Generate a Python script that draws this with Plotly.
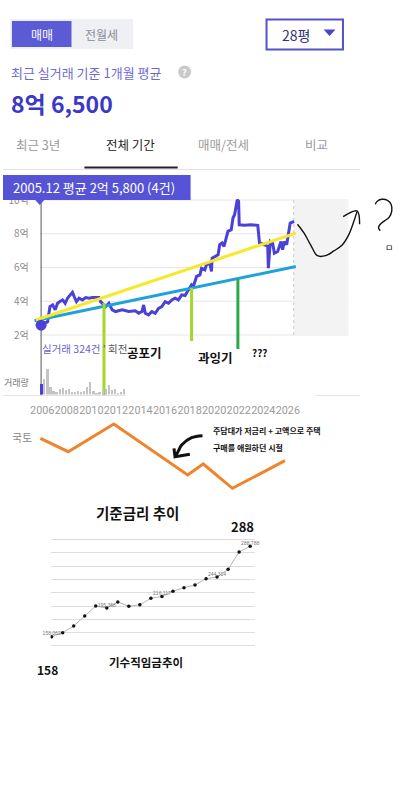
import plotly.graph_objects as go

W, H = 405, 790
def px(x): return x / W
def py(y): return 1 - y / H

KR = "Noto Sans CJK KR"

# ---------------- data ----------------
price_years = [2005.91, 2006.44, 2006.63, 2006.85, 2007.06, 2007.25, 2007.44, 2007.66, 2007.87, 2008.06,
               2008.28, 2008.46, 2008.60, 2008.79, 2009.00, 2009.27, 2009.54, 2009.81, 2010.08, 2010.62,
               2010.75, 2010.89, 2011.16, 2011.43, 2011.70, 2011.97, 2012.51, 2013.04, 2013.58, 2013.85,
               2014.12, 2014.26, 2014.39, 2014.66, 2014.93, 2015.20, 2015.47, 2015.74, 2016.01, 2016.28,
               2016.55, 2016.82, 2017.09, 2017.36, 2017.63, 2017.90, 2018.16, 2018.30, 2018.57, 2018.84,
               2018.97, 2019.24, 2019.37, 2019.64, 2019.78, 2019.83, 2020.05, 2020.32, 2020.45, 2020.64,
               2020.80, 2020.99, 2021.12, 2021.39, 2021.53, 2021.66, 2021.74, 2021.88, 2021.99, 2022.04,
               2022.47, 2023.01, 2023.55, 2023.69, 2024.09, 2024.36, 2024.41, 2024.57, 2024.76, 2024.90,
               2025.17, 2025.44, 2025.57, 2025.71, 2025.90, 2026.03, 2026.19, 2026.51]
price_values = [2.58, 2.79, 3.68, 3.78, 3.49, 3.88, 3.98, 4.08, 3.88, 4.18,
                4.38, 4.53, 4.28, 3.98, 4.18, 4.08, 4.22, 4.18, 4.22, 4.22,
                3.98, 3.88, 3.68, 3.88, 3.49, 3.39, 3.49, 3.39, 3.43, 3.29,
                3.39, 3.78, 3.29, 3.19, 3.39, 3.29, 3.58, 3.68, 3.98, 3.88,
                4.08, 4.18, 4.08, 4.38, 4.34, 4.67, 4.97, 4.87, 5.47, 5.56,
                5.96, 5.86, 6.16, 6.26, 5.76, 6.55, 6.65, 6.75, 7.35, 7.45,
                7.25, 7.74, 8.14, 8.24, 8.93, 9.13, 9.43, 10.02, 9.92, 8.53,
                8.50, 8.53, 8.50, 7.45, 7.35, 7.25, 5.96, 7.54, 7.45, 6.85,
                6.95, 7.54, 7.05, 7.54, 7.35, 7.94, 8.63, 8.73]
start_year = [2005.91]
start_value = [2.58]

upper_trend_years = [2005.50, 2026.65]
upper_trend_values = [2.89, 8.04]
lower_trend_years = [2005.37, 2026.65]
lower_trend_values = [2.85, 6.06]

phase_years = [2011.03, 2018.16, 2021.93]
phase_tops = [3.90, 4.79, 5.32]
phase_bottoms = [-1.56, 1.64, 1.17]
phase_colors = ["#a6d62b", "#a6d62b", "#2aa84a"]

vol_years = [2005.92, 2006.15, 2006.42, 2006.65, 2006.90, 2007.15, 2007.40, 2007.65, 2007.90, 2008.15,
             2008.40, 2008.65, 2008.90, 2009.15, 2009.40, 2009.65, 2009.90, 2010.15, 2010.40, 2010.65,
             2010.90, 2011.15, 2011.40, 2011.65, 2011.90, 2012.15, 2012.40, 2012.65]
vol_counts = [11, 16, 26, 8, 4, 3, 6, 7, 5, 6,
              3, 3, 4, 3, 4, 8, 13, 4, 2, 3,
              5, 6, 10, 5, 6, 2, 3, 6]

price_tickvals = [2, 4, 6, 8, 10]
price_ticktext = ["2억", "4억", "6억", "8억", "10억"]
year_ticks = [2006, 2008, 2010, 2012, 2014, 2016, 2018, 2020, 2022, 2024, 2026]
shaded_from_year = 2026.48

rate_years = [2005.85, 2008.12, 2011.83, 2017.84, 2019.11, 2021.48, 2025.76]
rate_values = [6.17, 4.83, 7.60, 2.50, 3.60, 1.17, 3.93]

wage_years = [2006, 2007, 2008, 2009, 2010, 2011, 2012, 2013, 2014, 2015,
              2016, 2017, 2018, 2019, 2020, 2021, 2022, 2023, 2024]
wage_values = [158.1, 163.8, 173.5, 187.9, 202.3, 199.4, 208.1, 201.9, 204.2, 213.5,
               216.1, 223.6, 228.8, 232.7, 241.8, 244.3, 255.3, 280.3, 288.8]
wage_label_idx = [0, 5, 10, 15, 18]
wage_label_text = ["158,062", "195,368", "216,117", "244,314", "288,788"]
wage_grid = [144.6, 163.8, 183.1, 202.3, 221.6, 240.9, 260.1, 279.3, 298.7]

# hand-drawn doodles (forecast squiggle and question mark on the price axes)
forecast_doodle_years = [2026.78, 2027.32, 2027.86, 2028.40, 2029.07, 2029.74, 2030.42, 2030.95, 2031.36, 2031.63]
forecast_doodle_values = [8.56, 8.03, 7.33, 6.70, 6.70, 6.98, 7.33, 7.93, 8.71, 9.31]
forecast_head_years = [2030.50, 2031.63, 2031.84]
forecast_head_values = [9.01, 9.35, 8.56]
question_years = [2033.11, 2033.30, 2033.65, 2034.11, 2034.40, 2034.46, 2034.24, 2033.86, 2033.52, 2033.38, 2033.52]
question_values = [9.75, 9.94, 10.04, 9.98, 9.75, 9.35, 8.97, 8.76, 8.56, 8.36, 8.18]
# curved arrow on the rate axes
rate_arrow_years = [2019.05, 2018.16, 2017.35, 2017.03, 2016.81]
rate_arrow_values = [6.43, 6.23, 5.50, 4.77, 4.33]
rate_head_years = [2016.73, 2016.81, 2018.02]
rate_head_values = [5.17, 4.33, 4.57]

# ---------------- figure ----------------
fig = go.Figure()
PURPLE = "#4b40d8"

fig.add_trace(go.Scatter(x=price_years, y=price_values, mode="lines",
                         line=dict(color=PURPLE, width=3), xaxis="x", yaxis="y", hoverinfo="skip"))
fig.add_trace(go.Scatter(x=lower_trend_years, y=lower_trend_values, mode="lines",
                         line=dict(color="#1fa2dc", width=3), xaxis="x", yaxis="y", hoverinfo="skip"))
fig.add_trace(go.Scatter(x=upper_trend_years, y=upper_trend_values, mode="lines",
                         line=dict(color="#f7e82a", width=3), xaxis="x", yaxis="y", hoverinfo="skip"))
for yr, top, bot, col in zip(phase_years, phase_tops, phase_bottoms, phase_colors):
    fig.add_trace(go.Scatter(x=[yr, yr], y=[top, bot], mode="lines",
                             line=dict(color=col, width=3), xaxis="x", yaxis="y", hoverinfo="skip"))
fig.add_trace(go.Scatter(x=start_year, y=start_value, mode="markers",
                         marker=dict(color=PURPLE, size=11), xaxis="x", yaxis="y", hoverinfo="skip",
                         cliponaxis=False))
for xs, ys in [(forecast_doodle_years, forecast_doodle_values), (forecast_head_years, forecast_head_values),
               (question_years, question_values)]:
    fig.add_trace(go.Scatter(x=xs, y=ys, mode="lines", line=dict(color="#111", width=1.4, shape="spline"),
                             xaxis="x", yaxis="y", hoverinfo="skip"))

# volume bars
fig.add_trace(go.Bar(x=vol_years, y=vol_counts, width=0.18,
                     marker=dict(color=[PURPLE] + ["#c4c4c4"] * (len(vol_counts) - 1), line=dict(width=0)),
                     xaxis="x", yaxis="y2", hoverinfo="skip"))

# rate line + arrow
fig.add_trace(go.Scatter(x=rate_years, y=rate_values, mode="lines",
                         line=dict(color="#f0842c", width=3), xaxis="x", yaxis="y3", hoverinfo="skip"))
fig.add_trace(go.Scatter(x=rate_arrow_years, y=rate_arrow_values, mode="lines",
                         line=dict(color="#111", width=3, shape="spline"), xaxis="x", yaxis="y3", hoverinfo="skip"))
fig.add_trace(go.Scatter(x=rate_head_years, y=rate_head_values, mode="lines",
                         line=dict(color="#111", width=3), xaxis="x", yaxis="y3", hoverinfo="skip"))

# wage chart
fig.add_trace(go.Scatter(x=wage_years, y=wage_values, mode="lines+markers",
                         line=dict(color="#b5b5b5", width=1),
                         marker=dict(color="#111", size=3.5),
                         xaxis="x4", yaxis="y4", hoverinfo="skip"))
fig.add_trace(go.Scatter(x=[wage_years[i] for i in wage_label_idx], y=[wage_values[i] for i in wage_label_idx],
                         mode="text", text=wage_label_text, textposition="top center",
                         textfont=dict(size=5, color="#777", family="Liberation Sans"),
                         xaxis="x4", yaxis="y4", hoverinfo="skip", cliponaxis=False))

# ---------------- shapes ----------------
shapes = []
def line_px(x0, y0, x1, y1, color, width, layer="below", dash=None):
    d = dict(type="line", xref="paper", yref="paper", x0=px(x0), y0=py(y0), x1=px(x1), y1=py(y1),
             line=dict(color=color, width=width), layer=layer)
    if dash:
        d["line"]["dash"] = dash
    shapes.append(d)

def rect_px(x0, y0, x1, y1, fill, line_color=None, line_width=0, layer="below"):
    shapes.append(dict(type="rect", xref="paper", yref="paper", x0=px(x0), y0=py(y1), x1=px(x1), y1=py(y0),
                       fillcolor=fill, line=dict(color=line_color or fill, width=line_width), layer=layer))

# top controls
rect_px(7, 19, 131, 49, "#eef0f3")
rect_px(9, 21, 69, 47, "#5b5bd6")
rect_px(265.5, 19.5, 342.5, 49.5, "white", "#5552c8", 2)
shapes.append(dict(type="path", xref="paper", yref="paper",
                   path=f"M {px(323)},{py(29.5)} L {px(335)},{py(29.5)} L {px(329)},{py(36)} Z",
                   fillcolor="#4946c6", line=dict(width=0)))
shapes.append(dict(type="circle", xref="paper", yref="paper", x0=px(176.5), x1=px(189.5), y0=py(78.5), y1=py(65.5),
                   fillcolor="#c9c9c9", line=dict(width=0)))
# tabs
line_px(0, 169.5, 360, 169.5, "#e2e2e2", 1)
line_px(82, 167.5, 176, 167.5, "#222", 2.2)

# price chart background
shapes.append(dict(type="rect", xref="x", yref="y", x0=shaded_from_year, x1=2030.929, y0=2, y1=10,
                   fillcolor="#f3f3f3", line=dict(width=0), layer="below"))
for v in price_tickvals:
    shapes.append(dict(type="line", xref="paper", yref="y", x0=px(37), x1=px(348), y0=v, y1=v,
                       line=dict(color="#e6e6e6", width=1), layer="below"))
shapes.append(dict(type="line", xref="x", yref="y", x0=shaded_from_year, x1=shaded_from_year, y0=2, y1=10,
                   line=dict(color="#c9c9c9", width=1, dash="dot"), layer="below"))
shapes.append(dict(type="line", xref="x", yref="paper", x0=start_year[0], x1=start_year[0],
                   y0=py(395), y1=py(200), line=dict(color="#555", width=1), layer="below"))
line_px(0, 395.5, 123, 395.5, "#e2e2e2", 1)
line_px(315, 395.5, 360, 395.5, "#e2e2e2", 1)

# tooltip
rect_px(0, 175, 189, 200, "#5653d6", layer="above")
shapes.append(dict(type="path", xref="paper", yref="paper", layer="above",
                   path=f"M {px(32)},{py(199.5)} L {px(42)},{py(199.5)} L {px(37)},{py(205)} Z",
                   fillcolor="#5653d6", line=dict(width=0)))

# ---------------- annotations ----------------
ann = []
def txt(x, y, text, size, color="#111", anchor="left", family=KR):
    ann.append(dict(x=px(x), y=py(y), xref="paper", yref="paper", text=text, showarrow=False,
                    xanchor=anchor, yanchor="middle", borderpad=0,
                    font=dict(size=size, color=color, family=family)))

txt(39, 34, "매매", 12, "white", "center")
txt(99.5, 34, "전월세", 12, "#8b8b99", "center")
txt(295, 34.5, "28평", 14, "#33337a", "center")
txt(7, 72, "최근 실거래 기준 1개월 평균", 13, "#6d6bd0")
txt(183, 72, "<b>?</b>", 9, "white", "center")
txt(7, 103, "<b>8억 6,500</b>", 23, "#3b38c6")
txt(35.5, 145, "최근 3년", 12.5, "#9a9a9a", "center")
txt(128.5, 145, "전체 기간", 12.5, "#222", "center")
txt(222, 145, "매매/전세", 12.5, "#9a9a9a", "center")
txt(316, 145, "비교", 12.5, "#9a9a9a", "center")
txt(9, 187.5, "2005.12 평균 2억 5,800 (4건)", 13, "white")
txt(38, 348, '<span style="color:#6a64d0">실거래 324건</span><span style="color:#555"> ′ 회전</span>', 10.5)
txt(27.5, 382, "거래량", 9, "#777", "right")
txt(124, 353, "<b>공포기</b>", 12.5)
txt(195, 357, "<b>과잉기</b>", 12.5)
txt(250, 353, "<b>???</b>", 10)
txt(383.5, 247, "ㅁ", 9)
txt(8, 437, "국토", 11, "#8a8a8a")
txt(211, 430.5, "<b>주담대가 저금리 + 고액으로 주택</b>", 8)
txt(211, 447, "<b>구매를 애원하던 시절</b>", 8)
txt(135, 512, "<b>기준금리 추이</b>", 14.5, "#111", "center")
txt(229, 526, "<b>288</b>", 13)
txt(144, 662, "<b>기수직임금추이</b>", 11.5, "#111", "center")
txt(33, 669, "<b>158</b>", 12)

fig.update_layout(
    width=W, height=H, margin=dict(l=0, r=0, t=0, b=0),
    paper_bgcolor="white", plot_bgcolor="rgba(0,0,0,0)", showlegend=False,
    shapes=shapes, annotations=ann, bargap=0,
    xaxis=dict(domain=[px(30), 1], range=[2005.2323, 2035.535], anchor="y",
               tickvals=year_ticks, ticktext=[str(t) for t in year_ticks], tickangle=0,
               tickfont=dict(size=10.8, color="#9a9a9a", family="Roboto"),
               ticks="outside", ticklen=3, tickcolor="rgba(0,0,0,0)",
               showgrid=False, zeroline=False, showline=False, fixedrange=True),
    yaxis=dict(domain=[py(397), py(180)], range=[-1.674, 11.185], anchor="x",
               tickvals=price_tickvals, ticktext=price_ticktext,
               tickfont=dict(size=10, color="#8c8c8c", family=KR),
               ticks="outside", ticklen=1, tickcolor="rgba(0,0,0,0)",
               showgrid=False, zeroline=False, showline=False, fixedrange=True),
    yaxis2=dict(domain=[py(394.5), py(364.5)], range=[0, 30], anchor="x", visible=False),
    yaxis3=dict(domain=[py(500), py(420)], range=[0, 8], anchor="x", visible=False),
    xaxis4=dict(domain=[px(48), px(254)], range=[2005.91, 2024.45], anchor="y4",
                showgrid=False, zeroline=False, showticklabels=False, showline=False),
    yaxis4=dict(domain=[py(650), py(535)], range=[138.79, 304.9], anchor="x4",
                tickvals=wage_grid, showticklabels=False, ticks="", showgrid=True,
                gridcolor="#dedede", gridwidth=1, zeroline=False, showline=False),
)

fig.write_html("out.html")
